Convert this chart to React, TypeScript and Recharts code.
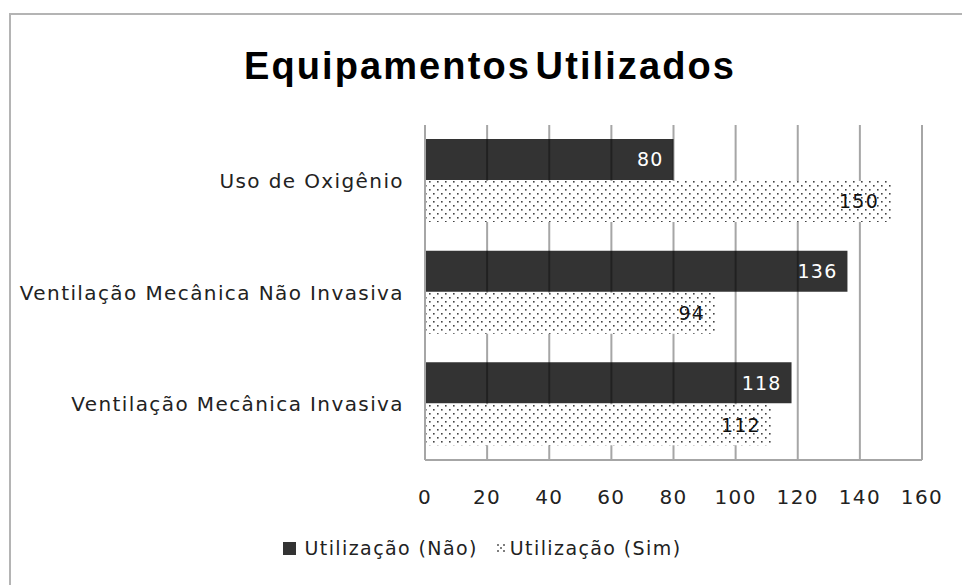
import { BarChart, Bar, XAxis, YAxis, CartesianGrid, Legend, LabelList } from "recharts";

const categories = ["Uso de Oxigênio", "Ventilação Mecânica Não Invasiva", "Ventilação Mecânica Invasiva"];
const naoValues = [80, 136, 118];
const simValues = [150, 94, 112];
const xTicks = [0, 20, 40, 60, 80, 100, 120, 140, 160];

const SERIES_NAO = "Utilização (Não)";
const SERIES_SIM = "Utilização (Sim)";

const FONT = "'DejaVu Sans', Verdana, sans-serif";

// Excel-style dotted fill for the "Sim" series
function DotPattern({ id }: { id: string }) {
  return (
    <pattern id={id} width="8" height="8" patternUnits="userSpaceOnUse">
      <rect width="8" height="8" fill="#fff" />
      <rect x="1" y="1" width="1.6" height="1.6" fill="#444" />
      <rect x="5" y="5" width="1.6" height="1.6" fill="#444" />
    </pattern>
  );
}

function LegendContent() {
  return (
    <div
      style={{
        display: "flex",
        justifyContent: "center",
        alignItems: "center",
        fontFamily: FONT,
        fontSize: 19,
        letterSpacing: 1.4,
        color: "#222",
        paddingLeft: 2,
      }}
    >
      <span style={{ display: "inline-block", width: 13, height: 13, background: "#333", marginRight: 9 }} />
      <span style={{ marginRight: 18 }}>{SERIES_NAO}</span>
      <svg width="12" height="10" style={{ marginRight: 2 }}>
        <circle cx="2" cy="2" r="1" fill="#555" />
        <circle cx="8" cy="2" r="1" fill="#555" />
        <circle cx="5" cy="5" r="1" fill="#555" />
        <circle cx="2" cy="8" r="1" fill="#555" />
        <circle cx="8" cy="8" r="1" fill="#555" />
      </svg>
      <span>{SERIES_SIM}</span>
    </div>
  );
}

export default function App() {
  const data = categories.map((name, i) => ({
    name,
    [SERIES_NAO]: naoValues[i],
    [SERIES_SIM]: simValues[i],
  }));

  return (
    <div
      style={{
        position: "absolute",
        left: 0,
        top: 0,
        width: 962,
        height: 585,
        overflow: "hidden",
        background: "#fff",
      }}
    >
      <div
        style={{
          position: "absolute",
          left: 9,
          top: 13,
          width: 970,
          height: 600,
          borderLeft: "2px solid #b4b4b4",
          borderTop: "2px solid #b4b4b4",
        }}
      />
      <div
        style={{
          position: "absolute",
          left: 0,
          top: 45,
          width: 980,
          textAlign: "center",
          fontFamily: "'Liberation Sans', Arial, sans-serif",
          fontWeight: "bold",
          fontSize: 38,
          letterSpacing: 2.1,
          wordSpacing: -8,
          color: "#000",
        }}
      >
        Equipamentos Utilizados
      </div>
      <BarChart
        width={962}
        height={585}
        data={data}
        layout="vertical"
        margin={{ top: 125, right: 40, bottom: 0, left: 0 }}
        barSize={41}
        barGap={1}
        style={{ position: "absolute", left: 0, top: 0 }}
      >
        <defs>
          <DotPattern id="dots" />
        </defs>
        <CartesianGrid horizontal={false} stroke="#a6a6a6" strokeWidth={2} />
        <XAxis
          type="number"
          domain={[0, 160]}
          ticks={xTicks}
          height={103}
          axisLine={{ stroke: "#a6a6a6", strokeWidth: 2 }}
          tickLine={false}
          tickMargin={24}
          tick={{ fontFamily: FONT, fontSize: 20, fill: "#222", letterSpacing: 1.4 }}
        />
        <YAxis
          type="category"
          dataKey="name"
          width={425}
          axisLine={{ stroke: "#a6a6a6", strokeWidth: 2 }}
          tickLine={false}
          tickMargin={15}
          tick={{ fontFamily: FONT, fontSize: 20, fill: "#222", letterSpacing: 1.4 }}
        />
        <Legend
          content={<LegendContent />}
          wrapperStyle={{ position: "absolute", top: 537, left: 0, width: 962 }}
        />
        <Bar dataKey={SERIES_NAO} fill="#000" fillOpacity={0.8} isAnimationActive={false}>
          <LabelList
            dataKey={SERIES_NAO}
            position="insideRight"
            offset={10}
            fill="#fff"
            style={{ fontFamily: FONT, fontSize: 19, letterSpacing: 1.2 }}
          />
        </Bar>
        <Bar dataKey={SERIES_SIM} fill="url(#dots)" isAnimationActive={false}>
          <LabelList
            dataKey={SERIES_SIM}
            position="insideRight"
            offset={12}
            fill="#111"
            style={{ fontFamily: FONT, fontSize: 19, letterSpacing: 1.2 }}
          />
        </Bar>
      </BarChart>
    </div>
  );
}
